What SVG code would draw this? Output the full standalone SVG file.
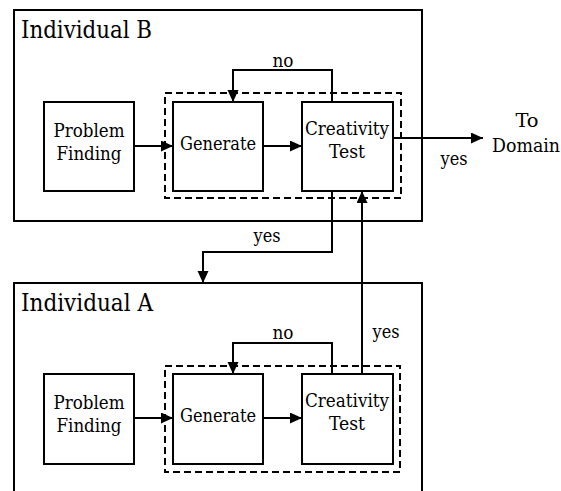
<svg xmlns="http://www.w3.org/2000/svg" width="561" height="491" viewBox="0 0 561 491">
<defs>
<marker id="ah" markerUnits="userSpaceOnUse" markerWidth="12" markerHeight="12" refX="12" refY="5.5" orient="auto">
<path d="M0,0 L12,5.5 L0,11 z" fill="#000"/>
</marker>
<style>
.box{fill:#fff;stroke:#000;stroke-width:2}
.outer{fill:none;stroke:#000;stroke-width:2}
.dash{fill:none;stroke:#000;stroke-width:2;stroke-dasharray:7,4}
.c{fill:none;stroke:#000;stroke-width:2}
.a{marker-end:url(#ah)}
text{font-family:'DejaVu Serif Condensed','DejaVu Serif',serif;font-stretch:condensed;font-size:19px;fill:#000}
.t{text-anchor:middle}
.title{font-size:24px}
</style>
</defs>
<rect width="561" height="491" fill="#fff"/>
<g id="individualB">
<rect class="outer" x="14" y="10" width="408" height="211"/>
<text class="title" x="21" y="38" textLength="131" lengthAdjust="spacingAndGlyphs">Individual B</text>
<rect class="dash" x="165" y="93" width="236" height="105"/>
</g>
<g id="individualA">
<rect class="outer" x="14" y="283" width="408" height="230"/>
<text class="title" x="21" y="311" textLength="132" lengthAdjust="spacingAndGlyphs">Individual A</text>
<rect class="dash" x="165" y="366" width="235" height="106"/>
</g>
<g id="B-problem">
<rect class="box" x="44" y="102" width="90" height="89"/>
<text class="t" x="89" y="137" textLength="71" lengthAdjust="spacingAndGlyphs">Problem</text>
<text class="t" x="89" y="160" textLength="65" lengthAdjust="spacingAndGlyphs">Finding</text>
</g>
<g id="B-generate">
<rect class="box" x="173" y="102" width="90" height="89"/>
<text class="t" x="218" y="150" textLength="76" lengthAdjust="spacingAndGlyphs">Generate</text>
</g>
<g id="B-test">
<rect class="box" x="302" y="102" width="91" height="89"/>
<text class="t" x="347" y="135" textLength="84" lengthAdjust="spacingAndGlyphs">Creativity</text>
<text class="t" x="347" y="158" textLength="36" lengthAdjust="spacingAndGlyphs">Test</text>
</g>
<g id="A-problem">
<rect class="box" x="44" y="374" width="90" height="90"/>
<text class="t" x="89" y="409" textLength="71" lengthAdjust="spacingAndGlyphs">Problem</text>
<text class="t" x="89" y="432" textLength="65" lengthAdjust="spacingAndGlyphs">Finding</text>
</g>
<g id="A-generate">
<rect class="box" x="173" y="374" width="90" height="90"/>
<text class="t" x="218" y="422" textLength="76" lengthAdjust="spacingAndGlyphs">Generate</text>
</g>
<g id="A-test">
<rect class="box" x="302" y="374" width="91" height="90"/>
<text class="t" x="347" y="407" textLength="84" lengthAdjust="spacingAndGlyphs">Creativity</text>
<text class="t" x="347" y="430" textLength="36" lengthAdjust="spacingAndGlyphs">Test</text>
</g>
<g id="domain">
<text class="t" x="527" y="127" textLength="23" lengthAdjust="spacingAndGlyphs">To</text>
<text class="t" x="526" y="152" textLength="68" lengthAdjust="spacingAndGlyphs">Domain</text>
</g>
<g id="connectors">
<path class="c a" d="M134,146 H173"/>
<path class="c a" d="M263,146 H302"/>
<path class="c a" d="M332,102 V70 H233 V102"/>
<path class="c a" d="M393,138 H483"/>
<path class="c a" d="M332,191 V252 H203 V283"/>
<path class="c a" d="M362,374 V191"/>
<path class="c a" d="M134,418 H173"/>
<path class="c a" d="M263,418 H302"/>
<path class="c a" d="M332,374 V343 H233 V374"/>
<text class="t" x="283" y="67" textLength="21" lengthAdjust="spacingAndGlyphs">no</text>
<text class="t" x="283" y="339" textLength="21" lengthAdjust="spacingAndGlyphs">no</text>
<text class="t" x="454" y="165" textLength="27" lengthAdjust="spacingAndGlyphs">yes</text>
<text class="t" x="267" y="242" textLength="27" lengthAdjust="spacingAndGlyphs">yes</text>
<text class="t" x="386" y="338" textLength="27" lengthAdjust="spacingAndGlyphs">yes</text>
</g>
</svg>
